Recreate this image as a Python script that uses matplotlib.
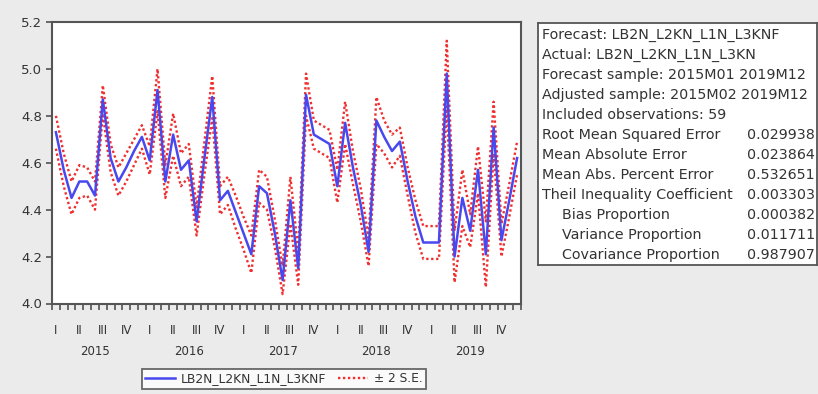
import matplotlib
matplotlib.use("Agg")
import matplotlib.pyplot as plt
import numpy as np
from matplotlib.lines import Line2D

# monthly forecast 2015M01..2019M12 and the +/- 2 S.E. band
forecast = [4.73, 4.57, 4.45, 4.52, 4.52, 4.46, 4.87, 4.62, 4.52, 4.58, 4.65, 4.71,
            4.61, 4.91, 4.52, 4.72, 4.57, 4.61, 4.35, 4.62, 4.88, 4.44, 4.48, 4.39,
            4.30, 4.21, 4.50, 4.47, 4.30, 4.10, 4.44, 4.15, 4.89, 4.72, 4.70, 4.68,
            4.50, 4.77, 4.58, 4.42, 4.22, 4.78, 4.71, 4.65, 4.69, 4.52, 4.37, 4.26,
            4.26, 4.26, 4.98, 4.20, 4.45, 4.31, 4.57, 4.21, 4.75, 4.27, 4.44, 4.62]
upper = [4.80, 4.64, 4.52, 4.59, 4.58, 4.52, 4.93, 4.68, 4.58, 4.64, 4.70, 4.76,
         4.67, 5.00, 4.59, 4.81, 4.64, 4.68, 4.41, 4.69, 4.97, 4.50, 4.54, 4.46,
         4.37, 4.29, 4.57, 4.54, 4.36, 4.16, 4.54, 4.22, 4.98, 4.78, 4.76, 4.74,
         4.57, 4.86, 4.65, 4.49, 4.28, 4.88, 4.78, 4.72, 4.75, 4.58, 4.44, 4.33,
         4.33, 4.33, 5.12, 4.31, 4.57, 4.38, 4.67, 4.35, 4.86, 4.34, 4.51, 4.69]
lower = [4.66, 4.50, 4.38, 4.45, 4.46, 4.40, 4.81, 4.56, 4.46, 4.52, 4.59, 4.66,
         4.55, 4.82, 4.45, 4.63, 4.50, 4.54, 4.29, 4.55, 4.79, 4.38, 4.42, 4.32,
         4.23, 4.13, 4.43, 4.40, 4.24, 4.04, 4.34, 4.08, 4.80, 4.66, 4.64, 4.62,
         4.43, 4.68, 4.51, 4.35, 4.16, 4.68, 4.64, 4.58, 4.63, 4.46, 4.30, 4.19,
         4.19, 4.19, 4.84, 4.09, 4.33, 4.24, 4.47, 4.07, 4.64, 4.20, 4.37, 4.55]
years = ["2015", "2016", "2017", "2018", "2019"]
quarters = ["I", "II", "III", "IV"]

stats_labels = ["Root Mean Squared Error", "Mean Absolute Error", "Mean Abs. Percent Error",
                "Theil Inequality Coefficient", "Bias Proportion", "Variance Proportion",
                "Covariance Proportion"]
stats_values = ["0.029938", "0.023864", "0.532651", "0.003303", "0.000382", "0.011711", "0.987907"]
header_lines = ["Forecast: LB2N_L2KN_L1N_L3KNF", "Actual: LB2N_L2KN_L1N_L3KN",
                "Forecast sample: 2015M01 2019M12", "Adjusted sample: 2015M02 2019M12",
                "Included observations: 59"]

W, H = 818, 394
BG = "#ebebeb"
TXT = "#333333"
BLUE = "#4848ee"
RED = "#f03030"
plt.rcParams["font.family"] = ["DejaVu Sans"]

fig = plt.figure(figsize=(W / 100, H / 100), dpi=100, facecolor=BG)

# main chart
ax = fig.add_axes([52 / W, 1 - 303.5 / H, 469 / W, 281.5 / H], facecolor="white")
x = np.arange(len(forecast))
ax.plot(x, upper, color=RED, lw=1.7, ls=(0, (1, 1.1)), zorder=2)
ax.plot(x, lower, color=RED, lw=1.7, ls=(0, (1, 1.1)), zorder=2)
ax.plot(x, forecast, color=BLUE, lw=1.8, zorder=3)

ax.set_xlim(-0.5, len(forecast) - 0.5)
ax.set_ylim(4.0, 5.2)
ax.set_yticks(np.arange(4.0, 5.21, 0.2))
ax.set_yticklabels([f"{v:.1f}" for v in np.arange(4.0, 5.21, 0.2)])

qpos = [12 * yi + 3 * q for yi in range(len(years)) for q in range(4)]
ax.set_xticks(qpos)
ax.set_xticklabels(quarters * len(years))
ax.set_xticks(np.arange(-0.5, len(forecast)), minor=True)
ax.tick_params(axis="x", which="major", length=0, pad=15, labelsize=8.5, colors=TXT)
ax.tick_params(axis="x", which="minor", length=4.5, width=1.1, color="#444444", direction="out")
ax.tick_params(axis="y", length=4, width=1.1, color="#444444", labelsize=9.5, colors=TXT, pad=3)
for yi, yr in enumerate(years):
    ax.text(12 * yi + 5, -0.172, yr, transform=ax.get_xaxis_transform(),
            ha="center", va="center", fontsize=8.5, color=TXT)
for s in ax.spines.values():
    s.set_color("#555555")
    s.set_linewidth(1.5)

# legend under the chart
handles = [Line2D([], [], color=BLUE, lw=1.8),
           Line2D([], [], color=RED, lw=1.7, ls=(0, (1, 1.1)))]
leg = fig.legend(handles, ["LB2N_L2KN_L1N_L3KNF", "± 2 S.E."], loc="center",
                 bbox_to_anchor=(284 / W, 1 - 379 / H), ncol=2, fontsize=8.8,
                 frameon=True, fancybox=False, handlelength=2.4, columnspacing=1.0,
                 borderpad=0.3, handletextpad=0.5, labelcolor=TXT)
leg.get_frame().set_edgecolor("#444444")
leg.get_frame().set_linewidth(1.3)
leg.get_frame().set_facecolor("white")

# statistics box
bx = fig.add_axes([538 / W, 1 - 265 / H, 279 / W, 242 / H], facecolor="white")
bx.set_xticks([])
bx.set_yticks([])
bx.set_xlim(538, 817)
bx.set_ylim(265, 23)
for s in bx.spines.values():
    s.set_color("#555555")
    s.set_linewidth(1.3)

lines = header_lines + stats_labels
for k, txt in enumerate(lines):
    ypix = 35 + 20 * k
    indent = 562 if txt in stats_labels[4:] else 542
    bx.text(indent, ypix, txt, ha="left", va="center", fontsize=10.3, color=TXT)
for k, val in enumerate(stats_values):
    ypix = 35 + 20 * (len(header_lines) + k)
    bx.text(815, ypix, val, ha="right", va="center", fontsize=10.3, color=TXT)

fig.savefig("out.png", dpi=100, facecolor=BG)
